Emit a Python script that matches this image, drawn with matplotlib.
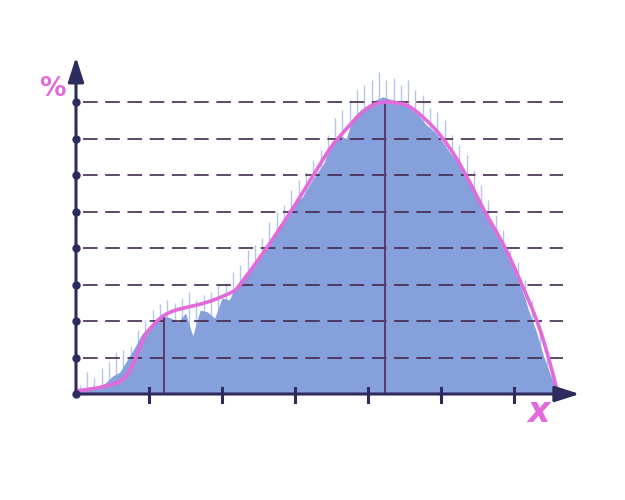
import numpy as np
import matplotlib
matplotlib.use('Agg')
import matplotlib.pyplot as plt

# histogram body (solid part), sampled every 0.1 on x
body_x = np.round(np.arange(0, 6.65, 0.1), 2)
body_y = [0.08, 0.11, 0.14, 0.16, 0.30, 0.49, 0.60, 0.93, 1.26, 1.64,
          1.84, 2.08, 2.14, 2.08, 1.97, 2.22, 1.59, 2.30, 2.25, 2.08,
          2.63, 2.58, 2.99, 3.26, 3.48, 3.70, 4.00, 4.30, 4.66, 4.90,
          5.23, 5.40, 5.75, 6.05, 6.35, 6.90, 7.10, 7.00, 7.59, 7.78,
          7.92, 8.05, 8.14, 8.08, 8.03, 7.95, 7.78, 7.62, 7.37, 7.21,
          6.96, 6.68, 6.41, 6.14, 5.86, 5.45, 5.04, 4.71, 4.27, 3.81,
          3.40, 2.90, 2.30, 1.75, 1.07, 0.52, 0.0]

# light spikes on top of the body, between body samples
spike_x = np.round(np.arange(0.05, 6.6, 0.1), 2)
spike_y = [0.25, 0.60, 0.44, 0.71, 0.88, 1.15, 1.21, 1.32, 1.75, 2.03,
           2.30, 2.47, 2.58, 2.49, 2.63, 2.79, 2.58, 2.71, 2.79, 2.99,
           3.04, 3.34, 3.53, 3.95, 4.08, 4.27, 4.71, 4.99, 5.18, 5.59,
           5.86, 6.08, 6.41, 6.68, 7.10, 7.56, 7.78, 8.05, 8.33, 8.47,
           8.60, 8.82, 8.60, 8.66, 8.47, 8.60, 8.33, 8.19, 7.84, 7.73,
           7.51, 7.10, 6.82, 6.55, 6.14, 5.73, 5.32, 4.90, 4.49, 3.95,
           3.62, 3.12, 2.58, 1.89, 1.21, 0.38]

# smooth fitted curve
curve_x = [0, 0.27, 0.55, 0.68, 0.78, 0.86, 0.96, 1.10, 1.21, 1.37,
           1.60, 1.82, 2.05, 2.20, 2.38, 2.66, 2.93, 3.10, 3.34, 3.52,
           3.85, 4.05, 4.23, 4.40, 4.58, 4.89, 5.16, 5.38, 5.60, 5.88,
           6.11, 6.32, 6.47, 6.60]
curve_y = [0.08, 0.16, 0.30, 0.48, 0.80, 1.20, 1.65, 1.97, 2.16, 2.30,
           2.41, 2.53, 2.71, 2.88, 3.35, 4.14, 4.96, 5.50, 6.28, 6.83,
           7.58, 7.90, 8.00, 7.97, 7.86, 7.32, 6.62, 5.85, 5.00, 4.00,
           2.99, 1.97, 1.01, 0.03]

grid_levels = [1, 2, 3, 4, 5, 6, 7, 8]
x_ticks = [1, 2, 3, 4, 5, 6]
marker_x = [1.2, 4.23]
marker_top = [2.14, 8.0]

axis_col = '#2e2c5e'
dash_col = '#43294f'
pink = '#e36adb'


def catmull_rom(xs, ys, n=12):
    # only for drawing a smooth line through the read points
    p = np.column_stack([xs, ys])
    p = np.vstack([p[0], p, p[-1]])
    out = []
    t = np.linspace(0, 1, n, endpoint=False)[:, None]
    for i in range(1, len(p) - 2):
        p0, p1, p2, p3 = p[i - 1], p[i], p[i + 1], p[i + 2]
        seg = 0.5 * (2 * p1 + (-p0 + p2) * t + (2 * p0 - 5 * p1 + 4 * p2 - p3) * t ** 2
                     + (-p0 + 3 * p1 - 3 * p2 + p3) * t ** 3)
        out.append(seg)
    out.append(p[-2][None, :])
    out = np.vstack(out)
    return out[:, 0], out[:, 1]


plt.rcParams['lines.scale_dashes'] = False
fig = plt.figure(figsize=(6.25, 5), dpi=100)
ax = fig.add_axes([0, 0, 1, 1])
ax.set_xlim(-76 / 73, 549 / 73)
ax.set_ylim(-106 / 36.5, 394 / 36.5)
ax.axis('off')

# histogram
ax.vlines(spike_x, 0, spike_y, color='#b3c4ef', lw=1.0, zorder=1)
ax.fill_between(body_x, 0, body_y, color='#86a0dc', lw=0, zorder=2)

# dashed levels
for g in grid_levels:
    ax.plot([0.1, 6.67], [g, g], color=dash_col, lw=1.2,
            dashes=(10.5, 5.5), zorder=3)

# vertical markers
for mx, mt in zip(marker_x, marker_top):
    ax.plot([mx, mx], [0, mt], color='#5a3a6e', lw=1.4, zorder=3)

# curve
sx, sy = catmull_rom(curve_x, curve_y)
ax.plot(sx, sy, color=pink, lw=2.6, solid_joinstyle='round',
        solid_capstyle='round', zorder=5)

# axes with arrows
head = dict(arrowstyle='-|>,head_length=1.0,head_width=0.32',
            lw=2.2, color=axis_col, mutation_scale=15, shrinkA=0, shrinkB=0)
ax.annotate('', xy=(6.90, 0), xytext=(0, 0), zorder=6, arrowprops=head)
ax.annotate('', xy=(0, 9.23), xytext=(0, 0), zorder=6, arrowprops=head)
ax.plot([0] * (len(grid_levels) + 1), [0] + grid_levels, 'o',
        color=axis_col, markersize=5, zorder=7)
for t in x_ticks:
    ax.plot([t, t], [0.16, -0.22], color=axis_col, lw=2.2, zorder=6)

ax.text(-0.33, 8.36, '%', color=pink, fontsize=19, fontweight='bold',
        ha='center', va='center')
ax.text(6.34, -0.49, 'x', color=pink, fontsize=25, fontweight='bold',
        fontstyle='italic', ha='center', va='center')

fig.savefig('out.png', dpi=100)
